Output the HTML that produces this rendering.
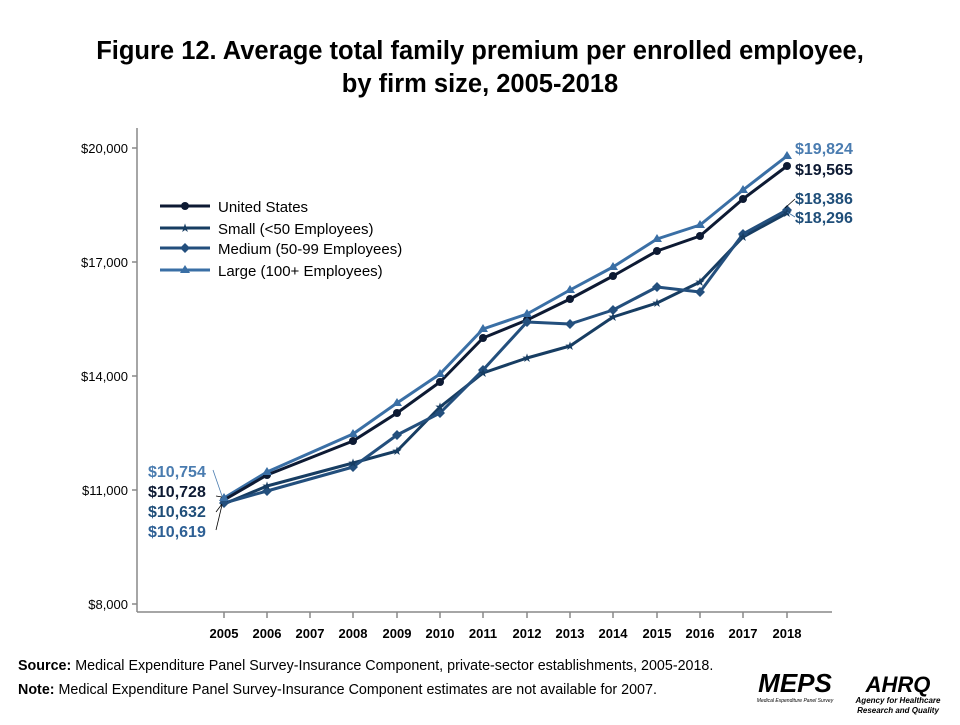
<!DOCTYPE html>
<html><head><meta charset="utf-8"><style>
body{margin:0;background:#fff;width:960px;height:720px;overflow:hidden;font-family:"Liberation Sans",Arial,sans-serif}
</style></head><body>
<svg width="960" height="720" xmlns="http://www.w3.org/2000/svg" font-family="Liberation Sans, Arial, sans-serif">
<text x="480" y="59" text-anchor="middle" font-size="25.5" font-weight="bold" fill="#000">Figure 12. Average total family premium per enrolled employee,</text>
<text x="480" y="92" text-anchor="middle" font-size="25.5" font-weight="bold" fill="#000">by firm size, 2005-2018</text>
<g stroke="#888" stroke-width="1.5" fill="none">
<line x1="137" y1="128" x2="137" y2="612"/>
<line x1="137" y1="612" x2="832" y2="612"/>
<line x1="132" y1="148" x2="137" y2="148"/><line x1="132" y1="262" x2="137" y2="262"/><line x1="132" y1="376" x2="137" y2="376"/><line x1="132" y1="490" x2="137" y2="490"/><line x1="132" y1="604" x2="137" y2="604"/>
<line x1="224" y1="612" x2="224" y2="618"/><line x1="267" y1="612" x2="267" y2="618"/><line x1="310" y1="612" x2="310" y2="618"/><line x1="353" y1="612" x2="353" y2="618"/><line x1="397" y1="612" x2="397" y2="618"/><line x1="440" y1="612" x2="440" y2="618"/><line x1="483" y1="612" x2="483" y2="618"/><line x1="527" y1="612" x2="527" y2="618"/><line x1="570" y1="612" x2="570" y2="618"/><line x1="613" y1="612" x2="613" y2="618"/><line x1="657" y1="612" x2="657" y2="618"/><line x1="700" y1="612" x2="700" y2="618"/><line x1="743" y1="612" x2="743" y2="618"/><line x1="787" y1="612" x2="787" y2="618"/>
</g>
<g font-size="13" fill="#000" text-anchor="end">
<text x="128" y="153">$20,000</text><text x="128" y="267">$17,000</text><text x="128" y="381">$14,000</text><text x="128" y="495">$11,000</text><text x="128" y="609">$8,000</text>
</g>
<g font-size="13" font-weight="bold" fill="#000" text-anchor="middle">
<text x="224" y="638">2005</text><text x="267" y="638">2006</text><text x="310" y="638">2007</text><text x="353" y="638">2008</text><text x="397" y="638">2009</text><text x="440" y="638">2010</text><text x="483" y="638">2011</text><text x="527" y="638">2012</text><text x="570" y="638">2013</text><text x="613" y="638">2014</text><text x="657" y="638">2015</text><text x="700" y="638">2016</text><text x="743" y="638">2017</text><text x="787" y="638">2018</text>
</g>
<g fill="none" stroke-width="3" stroke-linejoin="round">
<polyline stroke="#173d62" points="224,504 267,486 353,463 397,451 440,407 483,373 527,358 570,346 613,317 657,303 700,282 743,237 787,213"/>
<polyline stroke="#234f7d" points="224,503 267,491 353,467 397,435 440,413 483,370 527,322 570,324 613,310 657,287 700,292 743,234 787,210"/>
<polyline stroke="#3a6fa5" points="224,498 267,472 353,434 397,403 440,374 483,329 527,314 570,290 613,267 657,239 700,225 743,190 787,156"/>
<polyline stroke="#0d1a33" points="224,500 267,475 353,441 397,413 440,382 483,338 527,320 570,299 613,276 657,251 700,236 743,199 787,166"/>
</g>
<g fill="#0d1a33">
<circle cx="224" cy="500" r="4"/><circle cx="267" cy="475" r="4"/><circle cx="353" cy="441" r="4"/><circle cx="397" cy="413" r="4"/><circle cx="440" cy="382" r="4"/><circle cx="483" cy="338" r="4"/><circle cx="527" cy="320" r="4"/><circle cx="570" cy="299" r="4"/><circle cx="613" cy="276" r="4"/><circle cx="657" cy="251" r="4"/><circle cx="700" cy="236" r="4"/><circle cx="743" cy="199" r="4"/><circle cx="787" cy="166" r="4"/>
</g>
<g fill="#234f7d">
<path d="M224 498l5 5-5 5-5-5z M267 486l5 5-5 5-5-5z M353 462l5 5-5 5-5-5z M397 430l5 5-5 5-5-5z M440 408l5 5-5 5-5-5z M483 365l5 5-5 5-5-5z M527 317l5 5-5 5-5-5z M570 319l5 5-5 5-5-5z M613 305l5 5-5 5-5-5z M657 282l5 5-5 5-5-5z M700 287l5 5-5 5-5-5z M743 229l5 5-5 5-5-5z M787 205l5 5-5 5-5-5z"/>
</g>
<g fill="#3a6fa5">
<path d="M224 493l5 8h-10z M267 467l5 8h-10z M353 429l5 8h-10z M397 398l5 8h-10z M440 369l5 8h-10z M483 324l5 8h-10z M527 309l5 8h-10z M570 285l5 8h-10z M613 262l5 8h-10z M657 234l5 8h-10z M700 220l5 8h-10z M743 185l5 8h-10z M787 151l5 8h-10z"/>
</g>
<g fill="#173d62" font-size="12" text-anchor="middle">
<text x="267" y="490">★</text><text x="353" y="467">★</text><text x="397" y="455">★</text><text x="440" y="411">★</text><text x="483" y="377">★</text><text x="527" y="362">★</text><text x="570" y="350">★</text><text x="613" y="321">★</text><text x="657" y="307">★</text><text x="700" y="286">★</text><text x="743" y="241">★</text><text x="787" y="217">★</text>
</g>
<g stroke-width="3">
<line x1="160" y1="206" x2="210" y2="206" stroke="#0d1a33"/><circle cx="185" cy="206" r="4" fill="#0d1a33"/>
<line x1="160" y1="228" x2="210" y2="228" stroke="#173d62"/>
<line x1="160" y1="248" x2="210" y2="248" stroke="#234f7d"/><path d="M185 243l5 5-5 5-5-5z" fill="#234f7d" stroke="none"/>
<line x1="160" y1="270" x2="210" y2="270" stroke="#3a6fa5"/><path d="M185 265l5 8h-10z" fill="#3a6fa5" stroke="none"/>
</g>
<text x="185" y="232" font-size="12" text-anchor="middle" fill="#173d62">★</text>
<g font-size="15" fill="#000">
<text x="218" y="212">United States</text><text x="218" y="234">Small (&lt;50 Employees)</text><text x="218" y="254">Medium (50-99 Employees)</text><text x="218" y="276">Large (100+ Employees)</text>
</g>
<g font-size="16" font-weight="bold">
<text x="795" y="154" fill="#4a7cb0">$19,824</text>
<text x="795" y="175" fill="#0d1a33">$19,565</text>
<text x="795" y="204" fill="#1f4e79">$18,386</text>
<text x="795" y="223" fill="#1f4e79">$18,296</text>
<text x="148" y="477" fill="#4a7cb0">$10,754</text>
<text x="148" y="497" fill="#0d1a33">$10,728</text>
<text x="148" y="517" fill="#1f4e79">$10,632</text>
<text x="148" y="537" fill="#2e6095">$10,619</text>
</g>
<g stroke-width="0.8" fill="none">
<line x1="213" y1="470" x2="222" y2="496" stroke="#4a7cb0"/>
<line x1="216" y1="496" x2="222" y2="497" stroke="#000"/>
<line x1="216" y1="512" x2="222" y2="504" stroke="#000"/>
<line x1="216" y1="530" x2="222" y2="505" stroke="#000"/>
<line x1="785" y1="208" x2="795" y2="199" stroke="#000"/>
<line x1="787" y1="212" x2="795" y2="217" stroke="#3a6fa5"/>
</g>
<text x="18" y="670" font-size="14.3" fill="#000"><tspan font-weight="bold">Source:</tspan> Medical Expenditure Panel Survey-Insurance Component,  private-sector establishments, 2005-2018.</text>
<text x="18" y="694" font-size="14.3" fill="#000"><tspan font-weight="bold">Note:</tspan> Medical Expenditure Panel Survey-Insurance Component  estimates are not available for 2007.</text>
<text x="795" y="692" font-size="26" font-weight="bold" font-style="italic" fill="#000" text-anchor="middle">MEPS</text>
<text x="795" y="702" font-size="5" font-style="italic" fill="#000" text-anchor="middle">Medical Expenditure Panel Survey</text>
<text x="898" y="692" font-size="22" font-weight="bold" font-style="italic" fill="#000" text-anchor="middle">AHRQ</text>
<text x="898" y="703" font-size="8" font-weight="bold" font-style="italic" fill="#000" text-anchor="middle">Agency for Healthcare</text>
<text x="898" y="713" font-size="8" font-weight="bold" font-style="italic" fill="#000" text-anchor="middle">Research and Quality</text>
</svg>
</body></html>
